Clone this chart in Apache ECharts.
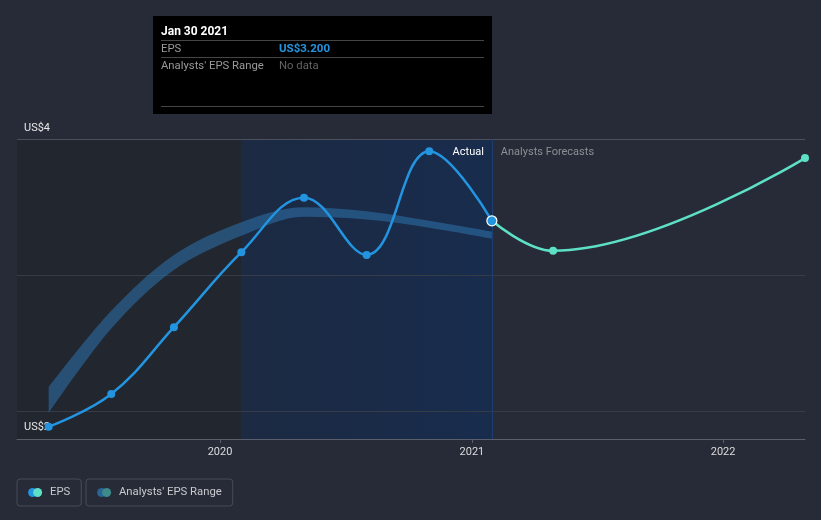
<!DOCTYPE html>
<html>
<head>
<meta charset="utf-8">
<title>EPS</title>
<script src="https://cdn.jsdelivr.net/npm/echarts@6/dist/echarts.min.js"></script>
<style>
  html, body { margin: 0; padding: 0; background: #262b37; }
  #chart { width: 821px; height: 520px; }
</style>
</head>
<body>
<div id="chart"></div>
<script>
// quarterly reported EPS
const actualDates = ['2019-04-27', '2019-07-27', '2019-10-26', '2020-02-01', '2020-05-02', '2020-08-01', '2020-10-31', '2021-01-30']
const actualEps = [1.89, 2.13, 2.62, 3.17, 3.57, 3.15, 3.91, 3.40]
// analysts forecasts
const forecastDates = ['2021-01-30', '2021-04-29', '2022-04-30']
const forecastEps = [3.40, 3.18, 3.86]
// analysts eps range (low / high)
const rangeLow = [1.99, 2.61, 3.04, 3.29, 3.43, 3.41, 3.35, 3.27]
const rangeHigh = [2.18, 2.74, 3.15, 3.39, 3.50, 3.47, 3.40, 3.32]
// y gridlines and their labels
const yTicks = [2, 3, 4]
const yTickLabels = ['US$2', '', 'US$4']

const axisStart = '2019-03-12'
const axisEnd = '2022-04-30'
const lastYearStart = '2020-02-01'
const today = '2021-01-30'

const blue = '#2394e0'
const teal = '#5de0c6'

const icon = (a, b) => 'image://data:image/svg+xml;charset=utf-8,' + encodeURIComponent(
  "<svg xmlns='http://www.w3.org/2000/svg' width='17' height='10' viewBox='0 0 17 10'>" +
  "<circle cx='4.6' cy='5' r='4.5' fill='" + a + "'/>" +
  "<circle cx='9.6' cy='5' r='4.5' fill='" + b + "'/></svg>")

const legendBox = {
  top: 479,
  padding: [8, 11],
  itemWidth: 17,
  itemHeight: 10,
  borderColor: '#474c58',
  borderWidth: 1,
  borderRadius: 3,
  selectedMode: false,
  textStyle: { color: '#c8cacd', fontSize: 11.3 }
}

const chart = echarts.init(document.getElementById('chart'))

chart.setOption({
  backgroundColor: '#262b37',
  animation: false,
  textStyle: { fontFamily: 'Roboto' },
  grid: { left: 17, right: 16, top: 139, bottom: 81 },
  legend: [
    Object.assign({ data: [{ name: 'EPS', icon: icon(blue, teal) }], left: 17 }, legendBox),
    Object.assign({ data: [{ name: "Analysts' EPS Range", icon: icon('#2a6496', '#3c8a8a') }], left: 86 }, legendBox)
  ],
  xAxis: {
    type: 'time',
    min: axisStart,
    max: axisEnd,
    minInterval: 365 * 24 * 3600 * 1000,
    axisLine: { lineStyle: { color: '#5a5f6b' } },
    axisTick: { show: true, length: 4, lineStyle: { color: '#5a5f6b' } },
    axisLabel: { color: '#dcdcdc', fontSize: 11, margin: 8, formatter: '{yyyy}' },
    splitLine: { show: false }
  },
  yAxis: {
    type: 'value',
    min: 1.8,
    max: 4.0,
    axisLine: { show: false },
    axisTick: { show: false },
    axisLabel: { show: false },
    splitLine: { show: false }
  },
  series: [{
    name: 'rangeLow',
    type: 'line',
    stack: 'range',
    smooth: 0.33,
    symbol: 'none',
    lineStyle: { opacity: 0 },
    data: actualDates.map((d, i) => [d, rangeLow[i]]),
    markArea: {
      silent: true,
      z: 0,
      data: [
        [{ xAxis: axisStart, itemStyle: { color: '#21262f' } }, { xAxis: lastYearStart }],
        [{
          xAxis: lastYearStart,
          itemStyle: {
            color: new echarts.graphic.LinearGradient(0, 0, 1, 0, [
              { offset: 0, color: '#1c2a42' },
              { offset: 1, color: '#182c4d' }
            ])
          }
        }, { xAxis: today }]
      ]
    },
    markLine: {
      silent: true,
      z: 1,
      symbol: ['none', 'none'],
      data: yTicks.map((v, i) => ({
        yAxis: v,
        lineStyle: { color: v === 4 ? '#4b505c' : '#363b47', type: 'solid', width: 1 },
        label: {
          show: yTickLabels[i] !== '',
          formatter: yTickLabels[i],
          position: v === 4 ? 'insideStartTop' : 'insideStartBottom',
          color: '#e6e6e6',
          fontSize: 11,
          distance: v === 4 ? [7, 5] : [7, 10]
        }
      })).concat([{
        xAxis: today,
        lineStyle: { color: '#1f3f72', type: 'solid', width: 1 },
        label: { show: false }
      }])
    }
  }, {
    name: "Analysts' EPS Range",
    type: 'line',
    stack: 'range',
    smooth: 0.33,
    symbol: 'none',
    color: '#2a6496',
    lineStyle: { opacity: 0 },
    areaStyle: { color: 'rgba(45,115,175,0.78)' },
    data: actualDates.map((d, i) => [d, +(rangeHigh[i] - rangeLow[i]).toFixed(2)])
  }, {
    name: 'EPS',
    type: 'line',
    smooth: 0.4,
    symbol: 'circle',
    symbolSize: 8,
    color: teal,
    lineStyle: { width: 2.5, color: teal },
    data: forecastDates.map((d, i) => [d, forecastEps[i]])
  }, {
    name: 'EPS',
    type: 'line',
    smooth: 0.4,
    symbol: 'circle',
    symbolSize: 8,
    color: blue,
    lineStyle: { width: 2.5, color: blue },
    data: actualDates.map((d, i) => {
      if (d === today) {
        return { value: [d, actualEps[i]], symbolSize: 10, itemStyle: { borderColor: '#ffffff', borderWidth: 1.2 } }
      }
      return [d, actualEps[i]]
    })
  }]
})

// annotations: tooltip box and actual / forecast labels
const todayPx = chart.convertToPixel({ gridIndex: 0 }, [today, 4])
const tipX = 161
const tipFont = '11.3px Roboto'
chart.setOption({
  graphic: [
    { type: 'rect', shape: { x: 153, y: 16, width: 339, height: 98 }, style: { fill: '#000000' } },
    { type: 'text', x: tipX, y: 32, style: { text: 'Jan 30 2021', fill: '#ffffff', font: 'bold 12px Roboto', verticalAlign: 'middle' } },
    { type: 'line', shape: { x1: tipX, y1: 40.5, x2: 484, y2: 40.5 }, style: { stroke: '#454545', lineWidth: 1 } },
    { type: 'text', x: tipX, y: 49, style: { text: 'EPS', fill: '#9a9a9a', font: tipFont, verticalAlign: 'middle' } },
    { type: 'text', x: 279, y: 49, style: { text: 'US$3.200', fill: blue, font: 'bold 11.5px Roboto', verticalAlign: 'middle' } },
    { type: 'line', shape: { x1: tipX, y1: 57.5, x2: 484, y2: 57.5 }, style: { stroke: '#454545', lineWidth: 1 } },
    { type: 'text', x: tipX, y: 66, style: { text: "Analysts' EPS Range", fill: '#9a9a9a', font: tipFont, verticalAlign: 'middle' } },
    { type: 'text', x: 279, y: 66, style: { text: 'No data', fill: '#626262', font: tipFont, verticalAlign: 'middle' } },
    { type: 'line', shape: { x1: tipX, y1: 106.5, x2: 484, y2: 106.5 }, style: { stroke: '#454545', lineWidth: 1 } },
    { type: 'text', x: todayPx[0] - 8, y: todayPx[1] + 13, style: { text: 'Actual', fill: '#ffffff', font: '11px Roboto', align: 'right', verticalAlign: 'middle' } },
    { type: 'text', x: todayPx[0] + 9, y: todayPx[1] + 13, style: { text: 'Analysts Forecasts', fill: '#8c8f94', font: '11px Roboto', align: 'left', verticalAlign: 'middle' } }
  ]
})
</script>
</body>
</html>
